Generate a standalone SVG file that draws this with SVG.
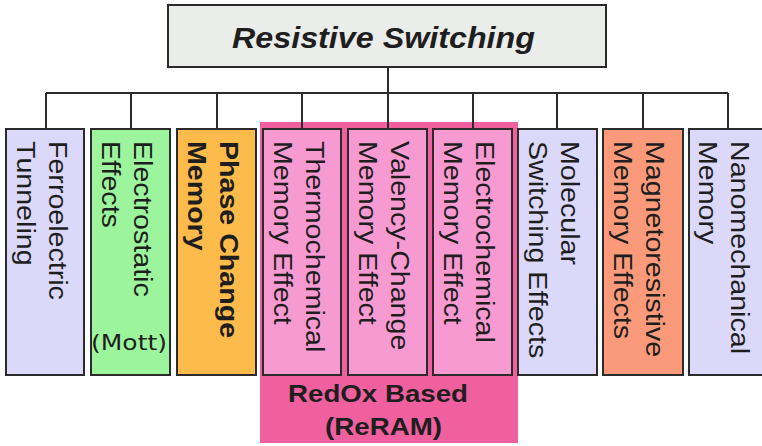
<svg xmlns="http://www.w3.org/2000/svg" width="762" height="446" viewBox="0 0 762 446">
<style>
.bx{stroke:#2b2b2b;stroke-width:2}
.conn{stroke:#2b2b2b;stroke-width:2;fill:none}
.t{font-family:"Liberation Sans",Arial,sans-serif;font-size:26px;fill:#1e1e1e}
.tb{font-family:"Liberation Sans",Arial,sans-serif;font-size:26px;font-weight:bold;fill:#1e1e1e}
.lav{fill:#dcd8fa}
.pk{fill:#f89ad2}
</style>
<rect width="762" height="446" fill="#ffffff"/>
<g id="redox">
<rect x="260" y="122" width="258" height="321" fill="#f0609f"/>
<text class="tb" style="font-size:23px" x="288" y="402" textLength="180" lengthAdjust="spacingAndGlyphs">RedOx Based</text>
<text class="tb" style="font-size:23px" x="325" y="435" textLength="117" lengthAdjust="spacingAndGlyphs">(ReRAM)</text>
</g>
<g id="connectors">
<path class="conn" d="M388 67V93M46 93H728M46 93V129M131 93V129M217 93V129M302 93V129M388 93V129M473 93V129M557 93V129M643 93V129M728 93V129"/>
</g>
<g id="root">
<rect class="bx" x="168" y="5" width="438" height="62" fill="#ebedea"/>
<text class="tb" style="font-size:30px;font-style:italic" x="232" y="48" textLength="303" lengthAdjust="spacingAndGlyphs">Resistive Switching</text>
</g>
<g id="ferroelectric">
<rect class="bx lav" x="6" y="129" width="78" height="246"/>
<text class="t" transform="translate(49,141) rotate(90) scale(1.1,1)">Ferroelectric</text>
<text class="t" transform="translate(17,141) rotate(90) scale(1.1,1)">Tunneling</text>
</g>
<g id="electrostatic">
<rect class="bx" x="91" y="129" width="79" height="246" fill="#9cf59c"/>
<text class="t" transform="translate(134,141) rotate(90) scale(1.1,1)">Electrostatic</text>
<text class="t" transform="translate(102,141) rotate(90) scale(1.1,1)">Effects</text>
<text x="129" y="350" text-anchor="middle" font-family="'DejaVu Sans',Verdana,sans-serif" font-size="22" fill="#1e1e1e" textLength="76" lengthAdjust="spacingAndGlyphs">(Mott)</text>
</g>
<g id="phasechange">
<rect class="bx" x="177" y="129" width="79" height="246" fill="#fdbb4b"/>
<text class="tb" transform="translate(220,141) rotate(90) scale(1.1,1)">Phase Change</text>
<text class="tb" transform="translate(188,141) rotate(90) scale(1.1,1)">Memory</text>
</g>
<g id="thermochemical">
<rect class="bx pk" x="263" y="129" width="78" height="246"/>
<text class="t" transform="translate(306,141) rotate(90) scale(1.1,1)">Thermochemical</text>
<text class="t" transform="translate(274,141) rotate(90) scale(1.1,1)">Memory Effect</text>
</g>
<g id="valency">
<rect class="bx pk" x="348" y="129" width="79" height="246"/>
<text class="t" transform="translate(391,141) rotate(90) scale(1.1,1)">Valency-Change</text>
<text class="t" transform="translate(359,141) rotate(90) scale(1.1,1)">Memory Effect</text>
</g>
<g id="electrochemical">
<rect class="bx pk" x="433" y="129" width="79" height="246"/>
<text class="t" transform="translate(476,141) rotate(90) scale(1.1,1)">Electrochemical</text>
<text class="t" transform="translate(444,141) rotate(90) scale(1.1,1)">Memory Effect</text>
</g>
<g id="molecular">
<rect class="bx lav" x="518" y="129" width="79" height="246"/>
<text class="t" transform="translate(561,141) rotate(90) scale(1.1,1)">Molecular</text>
<text class="t" transform="translate(529,141) rotate(90) scale(1.1,1)">Switching Effects</text>
</g>
<g id="magnetoresistive">
<rect class="bx" x="603" y="129" width="80" height="246" fill="#fa9a7a"/>
<text class="t" transform="translate(646,141) rotate(90) scale(1.1,1)">Magnetoresistive</text>
<text class="t" transform="translate(614,141) rotate(90) scale(1.1,1)">Memory Effects</text>
</g>
<g id="nanomechanical">
<rect class="bx lav" x="689" y="129" width="82" height="246"/>
<text class="t" transform="translate(731,141) rotate(90) scale(1.1,1)">Nanomechanical</text>
<text class="t" transform="translate(699,141) rotate(90) scale(1.1,1)">Memory</text>
</g>
</svg>
